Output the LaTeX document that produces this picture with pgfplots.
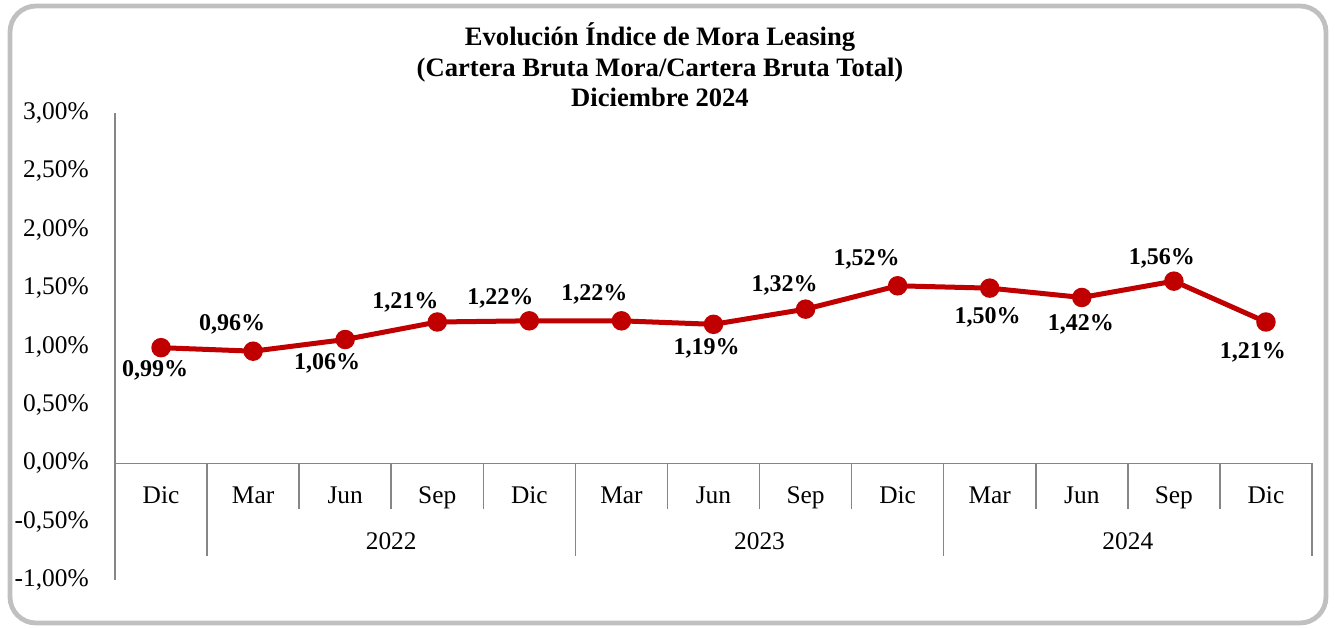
\documentclass[border=0pt]{standalone}
\usepackage{fontspec}
\setmainfont{Liberation Serif}
\usepackage{pgfplots}
\usepackage{pgfplotstable}
\pgfplotsset{compat=1.18}
\definecolor{axgray}{RGB}{134,134,134}
\definecolor{framegray}{RGB}{192,192,192}
\definecolor{linered}{RGB}{192,0,0}
\pgfplotstableread{
x y dx dy
0 0.99 -3 -11.5
1 0.96 -10.5 13.5
2 1.06 -9 -12
3 1.21 -16 10
4 1.22 -14.5 11
5 1.22 -13.5 13
6 1.19 -3.5 -12
7 1.32 -10.5 12
8 1.52 -15.5 13
9 1.50 -1 -14.5
10 1.42 -0.5 -13.5
11 1.56 -6 11.5
12 1.21 -6.5 -15
}\datatable
\begin{document}
\begin{tikzpicture}
\path (0pt,0pt) rectangle (667.5pt,-314pt);
\draw[framegray, line width=2.4pt, rounded corners=13pt] (5pt,-3pt) rectangle (663pt,-311.5pt);
\node[align=center, font=\fontsize{13.3}{15.25}\selectfont\bfseries] at (330pt,-32.5pt) {Evolución Índice de Mora Leasing\\(Cartera Bruta Mora/Cartera Bruta Total)\\Diciembre 2024};
\begin{axis}[
  at={(57.5pt,-290pt)}, anchor=south west, scale only axis,
  width=598.5pt, height=233.5pt,
  xmin=-0.5, xmax=12.5, ymin=-1, ymax=3,
  axis y line=left, axis x line=middle,
  axis line style={-, axgray, line width=0.75pt},
  hide obscured x ticks=false, hide obscured y ticks=false,
  xtick={0,...,12},
  xticklabels={Dic,Mar,Jun,Sep,Dic,Mar,Jun,Sep,Dic,Mar,Jun,Sep,Dic},
  xtick style={draw=none}, ytick style={draw=none},
  ytick={-1,-0.5,0,0.5,1,1.5,2,2.5,3},
  /pgf/number format/assume math mode=true,
  yticklabel={\pgfmathprintnumber[fixed,fixed zerofill,precision=2,use comma]{\tick}\%},
  ticklabel style={font=\fontsize{12.7}{15}\selectfont},
  xticklabel style={anchor=base, yshift=-18pt},
  yticklabel style={xshift=-7.5pt},
  clip=false,
]
\foreach \s in {1.5,2.5,3.5,5.5,6.5,7.5,9.5,10.5,11.5} {
  \edef\tmp{\noexpand\draw[axgray, line width=0.75pt] (axis cs:\s,0) -- (axis cs:\s,-0.393);}\tmp
}
\foreach \s in {0.5,4.5,8.5,12.5} {
  \edef\tmp{\noexpand\draw[axgray, line width=0.75pt] (axis cs:\s,0) -- (axis cs:\s,-0.795);}\tmp
}
\node[anchor=base, font=\fontsize{12.7}{15}\selectfont] at (axis cs:2.5,-0.737) {2022};
\node[anchor=base, font=\fontsize{12.7}{15}\selectfont] at (axis cs:6.5,-0.737) {2023};
\node[anchor=base, font=\fontsize{12.7}{15}\selectfont] at (axis cs:10.5,-0.737) {2024};
\addplot[linered, line width=2.5pt, mark=*, mark size=3.6pt,
  mark options={solid, fill=linered, draw=linered},
  point meta=y,
  visualization depends on={\thisrow{dx}\as\dx},
  visualization depends on={\thisrow{dy}\as\dy},
  nodes near coords={\pgfmathprintnumber[fixed,fixed zerofill,precision=2,use comma]{\pgfplotspointmeta}\%},
  every node near coord/.append style={anchor=center, xshift=\dx pt, yshift=\dy pt, text=black, font=\fontsize{12}{14}\selectfont\bfseries},
] table[x=x, y=y] {\datatable};
\end{axis}
\end{tikzpicture}
\end{document}
